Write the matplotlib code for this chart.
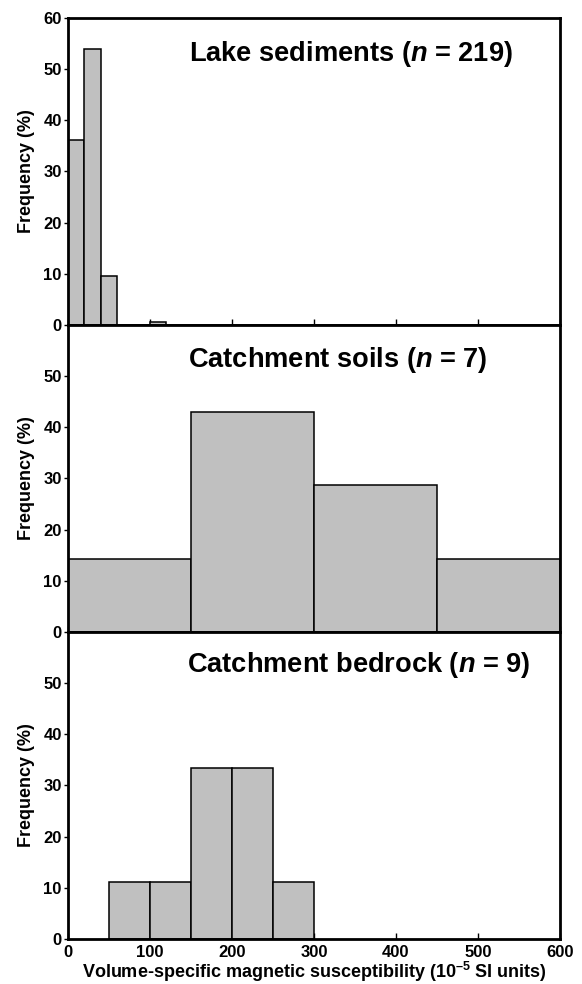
import matplotlib
matplotlib.use("Agg")
from matplotlib import pyplot as plt

# Histogram data (bin left edges, bin width, frequency in %)
lake_edges = [0, 20, 40, 60, 80, 100]
lake_freq = [36.1, 53.9, 9.6, 0, 0, 0.5]
lake_width = 20

soil_edges = [0, 150, 300, 450]
soil_freq = [14.3, 42.9, 28.6, 14.3]
soil_width = 150

rock_edges = [50, 100, 150, 200, 250]
rock_freq = [11.1, 11.1, 33.3, 33.3, 11.1]
rock_width = 50

titles = [r'Lake sediments ($n$ = 219)',
          r'Catchment soils ($n$ = 7)',
          r'Catchment bedrock ($n$ = 9)']
title_pos = [(0.575, 0.860), (0.549, 0.863), (0.592, 0.870)]

plt.rcParams['font.family'] = ['Liberation Sans', 'DejaVu Sans']
plt.rcParams['font.weight'] = 'bold'
plt.rcParams['mathtext.fontset'] = 'custom'
plt.rcParams['mathtext.it'] = 'Liberation Sans:bold:italic'
plt.rcParams['mathtext.rm'] = 'Liberation Sans:bold'
plt.rcParams['mathtext.bf'] = 'Liberation Sans:bold'

fig = plt.figure(figsize=(5.82, 9.84), dpi=100)
left, width, height = 0.1168, 0.8454, 0.3125
bottoms = [0.6697, 0.3577, 0.0457]
axes = [fig.add_axes([left, b, width, height]) for b in bottoms]

datasets = [(lake_edges, lake_freq, lake_width),
            (soil_edges, soil_freq, soil_width),
            (rock_edges, rock_freq, rock_width)]

for i, ax in enumerate(axes):
    edges, freq, w = datasets[i]
    ax.bar(edges, freq, width=w, align='edge', color='#c0c0c0',
           edgecolor='black', linewidth=1.1, zorder=2)
    ax.set_xlim(0, 600)
    ax.set_ylim(0, 60)
    ax.set_xticks([0, 100, 200, 300, 400, 500, 600])
    if i == 0:
        ax.set_yticks([0, 10, 20, 30, 40, 50, 60])
    else:
        ax.set_yticks([0, 10, 20, 30, 40, 50])
    ax.tick_params(axis='x', direction='in', length=4, width=1, labelsize=12, pad=4)
    ax.tick_params(axis='y', direction='out', length=3, width=1, labelsize=12, pad=1.5)
    if i < 2:
        ax.tick_params(axis='x', labelbottom=False)
    for sp in ax.spines.values():
        sp.set_linewidth(2.0)
        sp.set_zorder(3)
    ax.set_ylabel('Frequency (%)', fontsize=13, fontweight='bold', labelpad=6)
    ax.text(title_pos[i][0], title_pos[i][1], titles[i], transform=ax.transAxes,
            ha='center', va='baseline', fontsize=19.6, fontweight='bold')

axes[2].set_xlabel('Volume-specific magnetic susceptibility (10$^{\u20135}$ SI units)',
                   fontsize=13, fontweight='bold', labelpad=0)

fig.savefig('out.png', dpi=100)
